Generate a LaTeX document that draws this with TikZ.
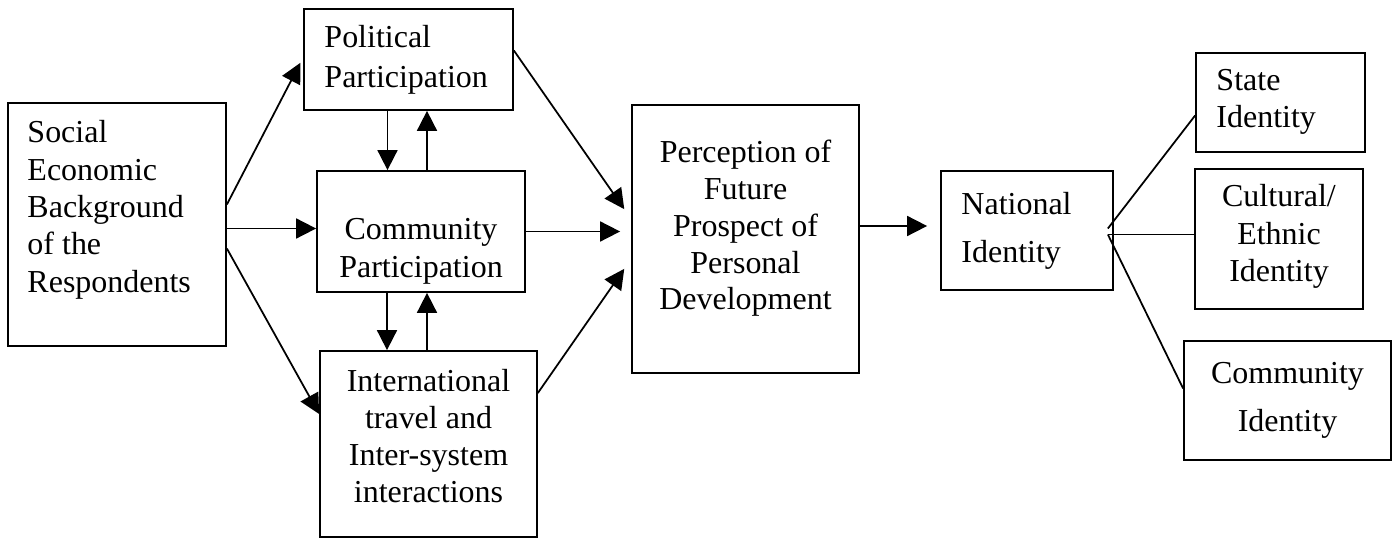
\documentclass[tikz,border=0pt]{standalone}
\usepackage{fontspec}
\setmainfont{Liberation Serif}
\usetikzlibrary{arrows.meta}
\usetikzlibrary{fit}

\tikzset{
  box/.style={draw, line width=1pt, inner sep=0pt},
  txt/.style={inner sep=0pt, font=\fontsize{18.2}{21.3}\selectfont},
  arr/.style={line width=1pt, -{Triangle[length=4mm,width=4mm]}},
  link/.style={line width=1pt},
}

\begin{document}
\begin{tikzpicture}[x=0.2mm, y=-0.2mm]
\useasboundingbox (0,0) rectangle (1400,538);

\node[box, fit={(8,103) (226,346)}] (seb) {};
\node[box, fit={(304,9) (513,110)}] (pp) {};
\node[box, fit={(317,171) (525,292)}] (cp) {};
\node[box, fit={(320,351) (537,537)}] (ic) {};
\node[box, fit={(632,105) (859,373)}] (pe) {};
\node[box, fit={(941,171) (1113,290)}] (ni) {};
\node[box, fit={(1196,53) (1365,152)}] (si) {};
\node[box, fit={(1195,169) (1363,309)}] (ci) {};
\node[box, fit={(1184,341) (1391,460)}] (mi) {};

\node[txt, align=left, anchor=north west] (seb-t) at ([shift={(20,18)}]seb.north west)
  {Social\\Economic\\Background\\of the\\Respondents};
\node[txt, align=left, anchor=north west, font=\fontsize{18.2}{22.8}\selectfont] (pp-t)
  at ([shift={(21,17)}]pp.north west) {Political\\Participation};
\node[txt, align=center, anchor=north, font=\fontsize{18.2}{21.6}\selectfont] (cp-t)
  at ([shift={(0,48)}]cp.north) {Community\\Participation};
\node[txt, align=center, anchor=north, font=\fontsize{18.2}{21}\selectfont] (ic-t)
  at ([shift={(0,19)}]ic.north) {International\\travel and\\Inter-system\\interactions};
\node[txt, align=center, anchor=north, font=\fontsize{18.2}{20.9}\selectfont] (pe-t)
  at ([shift={(0,36)}]pe.north) {Perception of\\Future\\Prospect of\\Personal\\Development};
\node[txt, align=left, anchor=north west, font=\fontsize{18.2}{27.3}\selectfont] (ni-t)
  at ([shift={(21,22)}]ni.north west) {National\\Identity};
\node[txt, align=left, anchor=north west, font=\fontsize{18.2}{21}\selectfont] (si-t)
  at ([shift={(21,17)}]si.north west) {State\\Identity};
\node[txt, align=center, anchor=north] (ci-t)
  at ([shift={(0,16)}]ci.north) {Cultural/\\Ethnic\\Identity};
\node[txt, align=center, anchor=north, font=\fontsize{18.2}{27.3}\selectfont] (mi-t)
  at ([shift={(0,22)}]mi.north) {Community\\Identity};

\draw[arr, shorten >=1.2mm] ([shift={(0,-20)}]seb.east) -- ([shift={(0,-2)}]pp.west);
\draw[arr] ([shift={(0,4)}]seb.east) -- ([shift={(0,4)}]seb.east -| cp.west);
\draw[arr] ([shift={(0,24)}]seb.east) -- ([shift={(0,-30)}]ic.west);

\draw[arr] ([shift={(-21,0)}]pp.south) -- ([shift={(-21,0)}]pp.south |- cp.north);
\draw[arr] ([shift={(6,0)}]cp.north) -- ([shift={(6,0)}]cp.north |- pp.south);
\draw[arr] ([shift={(-34,0)}]cp.south) -- ([shift={(-34,0)}]cp.south |- ic.north);
\draw[arr] ([shift={(6,0)}]cp.south |- ic.north) -- ([shift={(6,0)}]cp.south);

\draw[arr, shorten >=2.4mm] ([shift={(0,-9)}]pp.east) -- ([shift={(0,-20)}]pe.west);
\draw[arr, shorten >=2.2mm] (cp.east) -- (cp.east -| pe.west);
\draw[arr, shorten >=2.4mm] ([shift={(0,-51)}]ic.east) -- ([shift={(0,20)}]pe.west);

\draw[arr, shorten >=2.6mm] ([shift={(0,-13)}]pe.east) -- ([shift={(0,-13)}]pe.east -| ni.west);

\coordinate (hub) at ([shift={(-6,4)}]ni.east);
\draw[link] ([shift={(0,-6)}]hub) -- ([shift={(0,13)}]si.west);
\draw[link] (hub) -- (hub -| ci.west);
\draw[link] (hub) -- ([shift={(0,-12)}]mi.west);
\end{tikzpicture}
\end{document}
